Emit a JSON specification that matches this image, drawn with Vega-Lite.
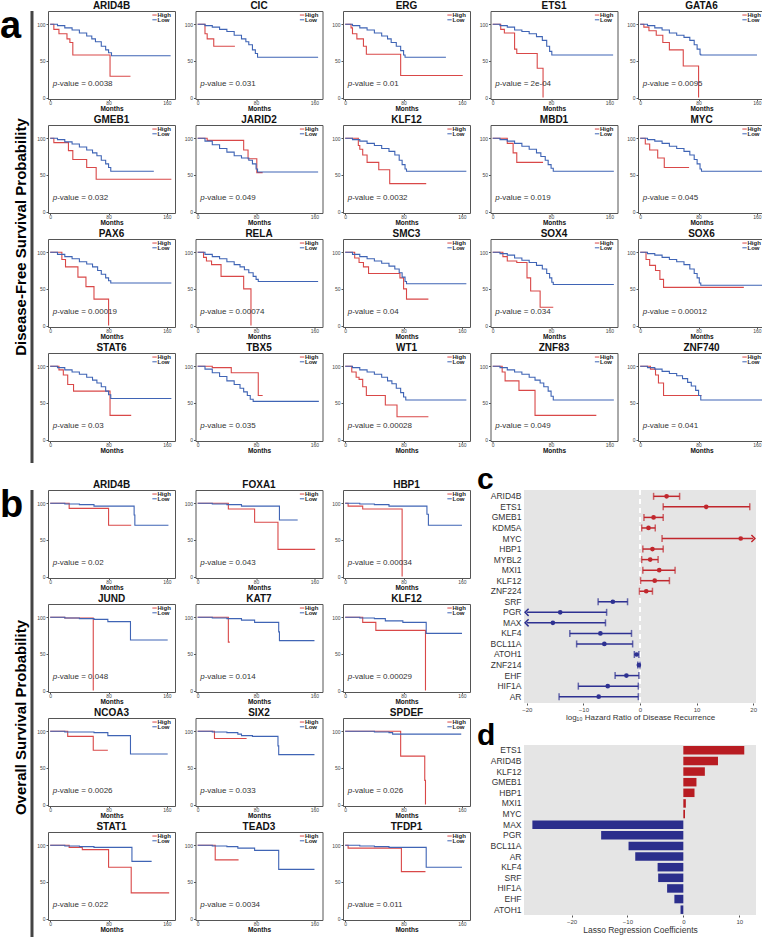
{
"$schema":"https://vega.github.io/schema/vega-lite/v6.json",
"padding":0,
"background":"white",
"config":{
 "font":"Liberation Sans",
 "view":{"stroke":"#555","strokeWidth":1},
 "axis":{"grid":false,"domain":false,"tickColor":"#555","labelColor":"#444","titleColor":"#111","labelOverlap":false},
 "header":{"labelFont":"Liberation Sans"},
 "title":{"font":"Liberation Sans"},
 "line":{"interpolate":"step-after","strokeWidth":1.1}
},
"datasets":{
"kmA":[
{"gene":"ARID4B","p":"0.0038"},
{"gene":"ARID4B","g":"High","t":0,"s":100},{"gene":"ARID4B","g":"High","t":5,"s":93},{"gene":"ARID4B","g":"High","t":12,"s":87},{"gene":"ARID4B","g":"High","t":23,"s":80},{"gene":"ARID4B","g":"High","t":27,"s":75},{"gene":"ARID4B","g":"High","t":31,"s":58},{"gene":"ARID4B","g":"High","t":82,"s":29},{"gene":"ARID4B","g":"High","t":110,"s":29},
{"gene":"ARID4B","g":"Low","t":0,"s":100},{"gene":"ARID4B","g":"Low","t":10,"s":98},{"gene":"ARID4B","g":"Low","t":20,"s":95},{"gene":"ARID4B","g":"Low","t":30,"s":92},{"gene":"ARID4B","g":"Low","t":40,"s":88},{"gene":"ARID4B","g":"Low","t":50,"s":84},{"gene":"ARID4B","g":"Low","t":57,"s":80},{"gene":"ARID4B","g":"Low","t":62,"s":76},{"gene":"ARID4B","g":"Low","t":70,"s":70},{"gene":"ARID4B","g":"Low","t":76,"s":65},{"gene":"ARID4B","g":"Low","t":80,"s":61},{"gene":"ARID4B","g":"Low","t":84,"s":57},{"gene":"ARID4B","g":"Low","t":165,"s":57},
{"gene":"CIC","p":"0.031"},
{"gene":"CIC","g":"High","t":0,"s":100},{"gene":"CIC","g":"High","t":10,"s":87},{"gene":"CIC","g":"High","t":13,"s":80},{"gene":"CIC","g":"High","t":22,"s":70},{"gene":"CIC","g":"High","t":51,"s":70},
{"gene":"CIC","g":"Low","t":0,"s":100},{"gene":"CIC","g":"Low","t":10,"s":98},{"gene":"CIC","g":"Low","t":20,"s":96},{"gene":"CIC","g":"Low","t":30,"s":93},{"gene":"CIC","g":"Low","t":40,"s":90},{"gene":"CIC","g":"Low","t":50,"s":85},{"gene":"CIC","g":"Low","t":60,"s":80},{"gene":"CIC","g":"Low","t":66,"s":76},{"gene":"CIC","g":"Low","t":70,"s":72},{"gene":"CIC","g":"Low","t":75,"s":65},{"gene":"CIC","g":"Low","t":79,"s":60},{"gene":"CIC","g":"Low","t":82,"s":55},{"gene":"CIC","g":"Low","t":165,"s":55},
{"gene":"ERG","p":"0.01"},
{"gene":"ERG","g":"High","t":0,"s":100},{"gene":"ERG","g":"High","t":8,"s":95},{"gene":"ERG","g":"High","t":10,"s":87},{"gene":"ERG","g":"High","t":16,"s":80},{"gene":"ERG","g":"High","t":25,"s":70},{"gene":"ERG","g":"High","t":29,"s":59},{"gene":"ERG","g":"High","t":76,"s":30},{"gene":"ERG","g":"High","t":161,"s":30},
{"gene":"ERG","g":"Low","t":0,"s":100},{"gene":"ERG","g":"Low","t":10,"s":98},{"gene":"ERG","g":"Low","t":20,"s":95},{"gene":"ERG","g":"Low","t":30,"s":92},{"gene":"ERG","g":"Low","t":40,"s":88},{"gene":"ERG","g":"Low","t":50,"s":84},{"gene":"ERG","g":"Low","t":58,"s":80},{"gene":"ERG","g":"Low","t":63,"s":75},{"gene":"ERG","g":"Low","t":70,"s":70},{"gene":"ERG","g":"Low","t":76,"s":64},{"gene":"ERG","g":"Low","t":80,"s":58},{"gene":"ERG","g":"Low","t":82,"s":55},{"gene":"ERG","g":"Low","t":138,"s":55},
{"gene":"ETS1","p":"2e-04"},
{"gene":"ETS1","g":"High","t":0,"s":100},{"gene":"ETS1","g":"High","t":11,"s":93},{"gene":"ETS1","g":"High","t":16,"s":88},{"gene":"ETS1","g":"High","t":30,"s":66},{"gene":"ETS1","g":"High","t":33,"s":60},{"gene":"ETS1","g":"High","t":61,"s":40},{"gene":"ETS1","g":"High","t":69,"s":0},
{"gene":"ETS1","g":"Low","t":0,"s":100},{"gene":"ETS1","g":"Low","t":10,"s":98},{"gene":"ETS1","g":"Low","t":20,"s":96},{"gene":"ETS1","g":"Low","t":30,"s":92},{"gene":"ETS1","g":"Low","t":40,"s":90},{"gene":"ETS1","g":"Low","t":50,"s":87},{"gene":"ETS1","g":"Low","t":60,"s":83},{"gene":"ETS1","g":"Low","t":68,"s":78},{"gene":"ETS1","g":"Low","t":74,"s":70},{"gene":"ETS1","g":"Low","t":78,"s":63},{"gene":"ETS1","g":"Low","t":81,"s":58},{"gene":"ETS1","g":"Low","t":165,"s":58},
{"gene":"GATA6","p":"0.0095"},
{"gene":"GATA6","g":"High","t":0,"s":100},{"gene":"GATA6","g":"High","t":5,"s":96},{"gene":"GATA6","g":"High","t":12,"s":91},{"gene":"GATA6","g":"High","t":22,"s":85},{"gene":"GATA6","g":"High","t":31,"s":75},{"gene":"GATA6","g":"High","t":40,"s":65},{"gene":"GATA6","g":"High","t":59,"s":43},{"gene":"GATA6","g":"High","t":80,"s":0},
{"gene":"GATA6","g":"Low","t":0,"s":100},{"gene":"GATA6","g":"Low","t":10,"s":98},{"gene":"GATA6","g":"Low","t":20,"s":95},{"gene":"GATA6","g":"Low","t":30,"s":92},{"gene":"GATA6","g":"Low","t":40,"s":88},{"gene":"GATA6","g":"Low","t":50,"s":85},{"gene":"GATA6","g":"Low","t":60,"s":82},{"gene":"GATA6","g":"Low","t":68,"s":78},{"gene":"GATA6","g":"Low","t":74,"s":72},{"gene":"GATA6","g":"Low","t":78,"s":66},{"gene":"GATA6","g":"Low","t":82,"s":59},{"gene":"GATA6","g":"Low","t":83,"s":58},{"gene":"GATA6","g":"Low","t":160,"s":58},
{"gene":"GMEB1","p":"0.032"},
{"gene":"GMEB1","g":"High","t":0,"s":100},{"gene":"GMEB1","g":"High","t":5,"s":94},{"gene":"GMEB1","g":"High","t":25,"s":83},{"gene":"GMEB1","g":"High","t":31,"s":71},{"gene":"GMEB1","g":"High","t":50,"s":60},{"gene":"GMEB1","g":"High","t":63,"s":44},{"gene":"GMEB1","g":"High","t":166,"s":44},
{"gene":"GMEB1","g":"Low","t":0,"s":100},{"gene":"GMEB1","g":"Low","t":10,"s":98},{"gene":"GMEB1","g":"Low","t":20,"s":95},{"gene":"GMEB1","g":"Low","t":30,"s":92},{"gene":"GMEB1","g":"Low","t":40,"s":88},{"gene":"GMEB1","g":"Low","t":50,"s":84},{"gene":"GMEB1","g":"Low","t":58,"s":80},{"gene":"GMEB1","g":"Low","t":64,"s":76},{"gene":"GMEB1","g":"Low","t":70,"s":70},{"gene":"GMEB1","g":"Low","t":76,"s":65},{"gene":"GMEB1","g":"Low","t":80,"s":60},{"gene":"GMEB1","g":"Low","t":83,"s":55},{"gene":"GMEB1","g":"Low","t":142,"s":55},
{"gene":"JARID2","p":"0.049"},
{"gene":"JARID2","g":"High","t":0,"s":100},{"gene":"JARID2","g":"High","t":13,"s":97},{"gene":"JARID2","g":"High","t":63,"s":84},{"gene":"JARID2","g":"High","t":69,"s":72},{"gene":"JARID2","g":"High","t":81,"s":53},{"gene":"JARID2","g":"High","t":89,"s":53},
{"gene":"JARID2","g":"Low","t":0,"s":100},{"gene":"JARID2","g":"Low","t":10,"s":96},{"gene":"JARID2","g":"Low","t":20,"s":91},{"gene":"JARID2","g":"Low","t":30,"s":86},{"gene":"JARID2","g":"Low","t":40,"s":81},{"gene":"JARID2","g":"Low","t":50,"s":76},{"gene":"JARID2","g":"Low","t":60,"s":73},{"gene":"JARID2","g":"Low","t":70,"s":70},{"gene":"JARID2","g":"Low","t":75,"s":65},{"gene":"JARID2","g":"Low","t":80,"s":58},{"gene":"JARID2","g":"Low","t":82,"s":54},{"gene":"JARID2","g":"Low","t":165,"s":54},
{"gene":"KLF12","p":"0.0032"},
{"gene":"KLF12","g":"High","t":0,"s":100},{"gene":"KLF12","g":"High","t":18,"s":90},{"gene":"KLF12","g":"High","t":20,"s":85},{"gene":"KLF12","g":"High","t":24,"s":77},{"gene":"KLF12","g":"High","t":30,"s":67},{"gene":"KLF12","g":"High","t":46,"s":57},{"gene":"KLF12","g":"High","t":61,"s":38},{"gene":"KLF12","g":"High","t":111,"s":38},
{"gene":"KLF12","g":"Low","t":0,"s":100},{"gene":"KLF12","g":"Low","t":10,"s":98},{"gene":"KLF12","g":"Low","t":20,"s":96},{"gene":"KLF12","g":"Low","t":30,"s":93},{"gene":"KLF12","g":"Low","t":40,"s":90},{"gene":"KLF12","g":"Low","t":50,"s":86},{"gene":"KLF12","g":"Low","t":60,"s":82},{"gene":"KLF12","g":"Low","t":68,"s":77},{"gene":"KLF12","g":"Low","t":74,"s":70},{"gene":"KLF12","g":"Low","t":78,"s":64},{"gene":"KLF12","g":"Low","t":82,"s":58},{"gene":"KLF12","g":"Low","t":84,"s":55},{"gene":"KLF12","g":"Low","t":166,"s":55},
{"gene":"MBD1","p":"0.019"},
{"gene":"MBD1","g":"High","t":0,"s":100},{"gene":"MBD1","g":"High","t":20,"s":93},{"gene":"MBD1","g":"High","t":28,"s":80},{"gene":"MBD1","g":"High","t":33,"s":67},{"gene":"MBD1","g":"High","t":69,"s":67},
{"gene":"MBD1","g":"Low","t":0,"s":100},{"gene":"MBD1","g":"Low","t":10,"s":98},{"gene":"MBD1","g":"Low","t":20,"s":96},{"gene":"MBD1","g":"Low","t":30,"s":93},{"gene":"MBD1","g":"Low","t":40,"s":89},{"gene":"MBD1","g":"Low","t":50,"s":85},{"gene":"MBD1","g":"Low","t":60,"s":80},{"gene":"MBD1","g":"Low","t":66,"s":75},{"gene":"MBD1","g":"Low","t":72,"s":70},{"gene":"MBD1","g":"Low","t":76,"s":64},{"gene":"MBD1","g":"Low","t":80,"s":59},{"gene":"MBD1","g":"Low","t":83,"s":55},{"gene":"MBD1","g":"Low","t":166,"s":55},
{"gene":"MYC","p":"0.045"},
{"gene":"MYC","g":"High","t":0,"s":100},{"gene":"MYC","g":"High","t":7,"s":92},{"gene":"MYC","g":"High","t":13,"s":84},{"gene":"MYC","g":"High","t":24,"s":73},{"gene":"MYC","g":"High","t":33,"s":60},{"gene":"MYC","g":"High","t":67,"s":60},
{"gene":"MYC","g":"Low","t":0,"s":100},{"gene":"MYC","g":"Low","t":10,"s":98},{"gene":"MYC","g":"Low","t":20,"s":96},{"gene":"MYC","g":"Low","t":30,"s":93},{"gene":"MYC","g":"Low","t":40,"s":89},{"gene":"MYC","g":"Low","t":50,"s":86},{"gene":"MYC","g":"Low","t":60,"s":82},{"gene":"MYC","g":"Low","t":68,"s":77},{"gene":"MYC","g":"Low","t":74,"s":71},{"gene":"MYC","g":"Low","t":78,"s":65},{"gene":"MYC","g":"Low","t":82,"s":58},{"gene":"MYC","g":"Low","t":84,"s":55},{"gene":"MYC","g":"Low","t":168,"s":55},
{"gene":"PAX6","p":"0.00019"},
{"gene":"PAX6","g":"High","t":0,"s":100},{"gene":"PAX6","g":"High","t":16,"s":90},{"gene":"PAX6","g":"High","t":21,"s":80},{"gene":"PAX6","g":"High","t":38,"s":66},{"gene":"PAX6","g":"High","t":49,"s":53},{"gene":"PAX6","g":"High","t":60,"s":36},{"gene":"PAX6","g":"High","t":80,"s":0},
{"gene":"PAX6","g":"Low","t":0,"s":100},{"gene":"PAX6","g":"Low","t":10,"s":97},{"gene":"PAX6","g":"Low","t":20,"s":94},{"gene":"PAX6","g":"Low","t":30,"s":91},{"gene":"PAX6","g":"Low","t":40,"s":87},{"gene":"PAX6","g":"Low","t":50,"s":84},{"gene":"PAX6","g":"Low","t":58,"s":80},{"gene":"PAX6","g":"Low","t":65,"s":75},{"gene":"PAX6","g":"Low","t":70,"s":70},{"gene":"PAX6","g":"Low","t":76,"s":65},{"gene":"PAX6","g":"Low","t":80,"s":61},{"gene":"PAX6","g":"Low","t":83,"s":58},{"gene":"PAX6","g":"Low","t":166,"s":58},
{"gene":"RELA","p":"0.00074"},
{"gene":"RELA","g":"High","t":0,"s":100},{"gene":"RELA","g":"High","t":8,"s":93},{"gene":"RELA","g":"High","t":12,"s":88},{"gene":"RELA","g":"High","t":19,"s":83},{"gene":"RELA","g":"High","t":32,"s":67},{"gene":"RELA","g":"High","t":63,"s":50},{"gene":"RELA","g":"High","t":73,"s":0},
{"gene":"RELA","g":"Low","t":0,"s":100},{"gene":"RELA","g":"Low","t":10,"s":97},{"gene":"RELA","g":"Low","t":20,"s":94},{"gene":"RELA","g":"Low","t":30,"s":91},{"gene":"RELA","g":"Low","t":40,"s":87},{"gene":"RELA","g":"Low","t":50,"s":83},{"gene":"RELA","g":"Low","t":58,"s":80},{"gene":"RELA","g":"Low","t":64,"s":76},{"gene":"RELA","g":"Low","t":70,"s":72},{"gene":"RELA","g":"Low","t":76,"s":67},{"gene":"RELA","g":"Low","t":80,"s":63},{"gene":"RELA","g":"Low","t":83,"s":60},{"gene":"RELA","g":"Low","t":165,"s":60},
{"gene":"SMC3","p":"0.04"},
{"gene":"SMC3","g":"High","t":0,"s":100},{"gene":"SMC3","g":"High","t":13,"s":92},{"gene":"SMC3","g":"High","t":19,"s":86},{"gene":"SMC3","g":"High","t":25,"s":80},{"gene":"SMC3","g":"High","t":32,"s":71},{"gene":"SMC3","g":"High","t":70,"s":71},{"gene":"SMC3","g":"High","t":75,"s":65},{"gene":"SMC3","g":"High","t":80,"s":50},{"gene":"SMC3","g":"High","t":84,"s":36},{"gene":"SMC3","g":"High","t":114,"s":36},
{"gene":"SMC3","g":"Low","t":0,"s":100},{"gene":"SMC3","g":"Low","t":10,"s":97},{"gene":"SMC3","g":"Low","t":20,"s":94},{"gene":"SMC3","g":"Low","t":30,"s":91},{"gene":"SMC3","g":"Low","t":40,"s":88},{"gene":"SMC3","g":"Low","t":50,"s":85},{"gene":"SMC3","g":"Low","t":60,"s":81},{"gene":"SMC3","g":"Low","t":68,"s":77},{"gene":"SMC3","g":"Low","t":74,"s":72},{"gene":"SMC3","g":"Low","t":78,"s":66},{"gene":"SMC3","g":"Low","t":82,"s":60},{"gene":"SMC3","g":"Low","t":84,"s":57},{"gene":"SMC3","g":"Low","t":166,"s":57},
{"gene":"SOX4","p":"0.034"},
{"gene":"SOX4","g":"High","t":0,"s":100},{"gene":"SOX4","g":"High","t":14,"s":94},{"gene":"SOX4","g":"High","t":20,"s":88},{"gene":"SOX4","g":"High","t":33,"s":86},{"gene":"SOX4","g":"High","t":47,"s":65},{"gene":"SOX4","g":"High","t":52,"s":47},{"gene":"SOX4","g":"High","t":65,"s":25},{"gene":"SOX4","g":"High","t":83,"s":25},
{"gene":"SOX4","g":"Low","t":0,"s":100},{"gene":"SOX4","g":"Low","t":10,"s":98},{"gene":"SOX4","g":"Low","t":20,"s":96},{"gene":"SOX4","g":"Low","t":30,"s":92},{"gene":"SOX4","g":"Low","t":40,"s":89},{"gene":"SOX4","g":"Low","t":50,"s":86},{"gene":"SOX4","g":"Low","t":60,"s":82},{"gene":"SOX4","g":"Low","t":68,"s":77},{"gene":"SOX4","g":"Low","t":74,"s":71},{"gene":"SOX4","g":"Low","t":78,"s":65},{"gene":"SOX4","g":"Low","t":81,"s":59},{"gene":"SOX4","g":"Low","t":83,"s":56},{"gene":"SOX4","g":"Low","t":166,"s":56},
{"gene":"SOX6","p":"0.00012"},
{"gene":"SOX6","g":"High","t":0,"s":100},{"gene":"SOX6","g":"High","t":8,"s":90},{"gene":"SOX6","g":"High","t":13,"s":82},{"gene":"SOX6","g":"High","t":21,"s":75},{"gene":"SOX6","g":"High","t":27,"s":63},{"gene":"SOX6","g":"High","t":32,"s":52},{"gene":"SOX6","g":"High","t":142,"s":52},
{"gene":"SOX6","g":"Low","t":0,"s":100},{"gene":"SOX6","g":"Low","t":10,"s":98},{"gene":"SOX6","g":"Low","t":20,"s":96},{"gene":"SOX6","g":"Low","t":30,"s":93},{"gene":"SOX6","g":"Low","t":40,"s":90},{"gene":"SOX6","g":"Low","t":50,"s":87},{"gene":"SOX6","g":"Low","t":60,"s":83},{"gene":"SOX6","g":"Low","t":68,"s":77},{"gene":"SOX6","g":"Low","t":74,"s":71},{"gene":"SOX6","g":"Low","t":78,"s":65},{"gene":"SOX6","g":"Low","t":81,"s":58},{"gene":"SOX6","g":"Low","t":83,"s":55},{"gene":"SOX6","g":"Low","t":168,"s":55},
{"gene":"STAT6","p":"0.03"},
{"gene":"STAT6","g":"High","t":0,"s":100},{"gene":"STAT6","g":"High","t":12,"s":95},{"gene":"STAT6","g":"High","t":18,"s":88},{"gene":"STAT6","g":"High","t":24,"s":75},{"gene":"STAT6","g":"High","t":32,"s":66},{"gene":"STAT6","g":"High","t":82,"s":33},{"gene":"STAT6","g":"High","t":111,"s":33},
{"gene":"STAT6","g":"Low","t":0,"s":100},{"gene":"STAT6","g":"Low","t":10,"s":98},{"gene":"STAT6","g":"Low","t":20,"s":95},{"gene":"STAT6","g":"Low","t":30,"s":92},{"gene":"STAT6","g":"Low","t":40,"s":89},{"gene":"STAT6","g":"Low","t":50,"s":85},{"gene":"STAT6","g":"Low","t":58,"s":81},{"gene":"STAT6","g":"Low","t":64,"s":77},{"gene":"STAT6","g":"Low","t":70,"s":72},{"gene":"STAT6","g":"Low","t":76,"s":66},{"gene":"STAT6","g":"Low","t":80,"s":61},{"gene":"STAT6","g":"Low","t":83,"s":56},{"gene":"STAT6","g":"Low","t":166,"s":56},
{"gene":"TBX5","p":"0.035"},
{"gene":"TBX5","g":"High","t":0,"s":100},{"gene":"TBX5","g":"High","t":20,"s":98},{"gene":"TBX5","g":"High","t":46,"s":91},{"gene":"TBX5","g":"High","t":83,"s":60},{"gene":"TBX5","g":"High","t":89,"s":60},
{"gene":"TBX5","g":"Low","t":0,"s":100},{"gene":"TBX5","g":"Low","t":10,"s":96},{"gene":"TBX5","g":"Low","t":20,"s":91},{"gene":"TBX5","g":"Low","t":30,"s":86},{"gene":"TBX5","g":"Low","t":40,"s":80},{"gene":"TBX5","g":"Low","t":50,"s":75},{"gene":"TBX5","g":"Low","t":58,"s":70},{"gene":"TBX5","g":"Low","t":63,"s":65},{"gene":"TBX5","g":"Low","t":68,"s":60},{"gene":"TBX5","g":"Low","t":72,"s":55},{"gene":"TBX5","g":"Low","t":76,"s":52},{"gene":"TBX5","g":"Low","t":166,"s":52},
{"gene":"WT1","p":"0.00028"},
{"gene":"WT1","g":"High","t":0,"s":100},{"gene":"WT1","g":"High","t":9,"s":92},{"gene":"WT1","g":"High","t":15,"s":85},{"gene":"WT1","g":"High","t":19,"s":82},{"gene":"WT1","g":"High","t":24,"s":72},{"gene":"WT1","g":"High","t":29,"s":60},{"gene":"WT1","g":"High","t":55,"s":47},{"gene":"WT1","g":"High","t":71,"s":31},{"gene":"WT1","g":"High","t":114,"s":31},
{"gene":"WT1","g":"Low","t":0,"s":100},{"gene":"WT1","g":"Low","t":10,"s":98},{"gene":"WT1","g":"Low","t":20,"s":95},{"gene":"WT1","g":"Low","t":30,"s":92},{"gene":"WT1","g":"Low","t":40,"s":89},{"gene":"WT1","g":"Low","t":50,"s":85},{"gene":"WT1","g":"Low","t":58,"s":80},{"gene":"WT1","g":"Low","t":64,"s":76},{"gene":"WT1","g":"Low","t":70,"s":70},{"gene":"WT1","g":"Low","t":76,"s":64},{"gene":"WT1","g":"Low","t":80,"s":58},{"gene":"WT1","g":"Low","t":83,"s":54},{"gene":"WT1","g":"Low","t":166,"s":54},
{"gene":"ZNF83","p":"0.049"},
{"gene":"ZNF83","g":"High","t":0,"s":100},{"gene":"ZNF83","g":"High","t":13,"s":92},{"gene":"ZNF83","g":"High","t":17,"s":80},{"gene":"ZNF83","g":"High","t":36,"s":67},{"gene":"ZNF83","g":"High","t":58,"s":33},{"gene":"ZNF83","g":"High","t":142,"s":33},
{"gene":"ZNF83","g":"Low","t":0,"s":100},{"gene":"ZNF83","g":"Low","t":10,"s":98},{"gene":"ZNF83","g":"Low","t":20,"s":95},{"gene":"ZNF83","g":"Low","t":30,"s":92},{"gene":"ZNF83","g":"Low","t":40,"s":89},{"gene":"ZNF83","g":"Low","t":50,"s":85},{"gene":"ZNF83","g":"Low","t":58,"s":81},{"gene":"ZNF83","g":"Low","t":65,"s":77},{"gene":"ZNF83","g":"Low","t":70,"s":72},{"gene":"ZNF83","g":"Low","t":76,"s":66},{"gene":"ZNF83","g":"Low","t":80,"s":59},{"gene":"ZNF83","g":"Low","t":83,"s":54},{"gene":"ZNF83","g":"Low","t":166,"s":54},
{"gene":"ZNF740","p":"0.041"},
{"gene":"ZNF740","g":"High","t":0,"s":100},{"gene":"ZNF740","g":"High","t":14,"s":96},{"gene":"ZNF740","g":"High","t":21,"s":88},{"gene":"ZNF740","g":"High","t":25,"s":77},{"gene":"ZNF740","g":"High","t":32,"s":60},{"gene":"ZNF740","g":"High","t":84,"s":60},
{"gene":"ZNF740","g":"Low","t":0,"s":100},{"gene":"ZNF740","g":"Low","t":10,"s":98},{"gene":"ZNF740","g":"Low","t":20,"s":96},{"gene":"ZNF740","g":"Low","t":30,"s":93},{"gene":"ZNF740","g":"Low","t":40,"s":90},{"gene":"ZNF740","g":"Low","t":50,"s":87},{"gene":"ZNF740","g":"Low","t":58,"s":83},{"gene":"ZNF740","g":"Low","t":65,"s":78},{"gene":"ZNF740","g":"Low","t":70,"s":73},{"gene":"ZNF740","g":"Low","t":76,"s":67},{"gene":"ZNF740","g":"Low","t":80,"s":60},{"gene":"ZNF740","g":"Low","t":83,"s":54},{"gene":"ZNF740","g":"Low","t":168,"s":54}
],
"kmB":[
{"gene":"ARID4B","p":"0.02"},
{"gene":"ARID4B","g":"High","t":0,"s":100},{"gene":"ARID4B","g":"High","t":26,"s":93},{"gene":"ARID4B","g":"High","t":80,"s":70},{"gene":"ARID4B","g":"High","t":111,"s":70},
{"gene":"ARID4B","g":"Low","t":0,"s":100},{"gene":"ARID4B","g":"Low","t":20,"s":99},{"gene":"ARID4B","g":"Low","t":40,"s":98},{"gene":"ARID4B","g":"Low","t":60,"s":96},{"gene":"ARID4B","g":"Low","t":113,"s":96},{"gene":"ARID4B","g":"Low","t":115,"s":84},{"gene":"ARID4B","g":"Low","t":116,"s":70},{"gene":"ARID4B","g":"Low","t":162,"s":70},
{"gene":"FOXA1","p":"0.043"},
{"gene":"FOXA1","g":"High","t":0,"s":100},{"gene":"FOXA1","g":"High","t":42,"s":92},{"gene":"FOXA1","g":"High","t":78,"s":74},{"gene":"FOXA1","g":"High","t":110,"s":37},{"gene":"FOXA1","g":"High","t":161,"s":37},
{"gene":"FOXA1","g":"Low","t":0,"s":100},{"gene":"FOXA1","g":"Low","t":20,"s":99},{"gene":"FOXA1","g":"Low","t":40,"s":98},{"gene":"FOXA1","g":"Low","t":60,"s":96},{"gene":"FOXA1","g":"Low","t":110,"s":96},{"gene":"FOXA1","g":"Low","t":112,"s":77},{"gene":"FOXA1","g":"Low","t":137,"s":77},
{"gene":"HBP1","p":"0.00034"},
{"gene":"HBP1","g":"High","t":0,"s":100},{"gene":"HBP1","g":"High","t":4,"s":96},{"gene":"HBP1","g":"High","t":24,"s":92},{"gene":"HBP1","g":"High","t":78,"s":0},
{"gene":"HBP1","g":"Low","t":0,"s":100},{"gene":"HBP1","g":"Low","t":20,"s":99},{"gene":"HBP1","g":"Low","t":40,"s":98},{"gene":"HBP1","g":"Low","t":60,"s":96},{"gene":"HBP1","g":"Low","t":110,"s":96},{"gene":"HBP1","g":"Low","t":112,"s":85},{"gene":"HBP1","g":"Low","t":114,"s":70},{"gene":"HBP1","g":"Low","t":160,"s":70},
{"gene":"JUND","p":"0.048"},
{"gene":"JUND","g":"High","t":0,"s":100},{"gene":"JUND","g":"High","t":20,"s":99},{"gene":"JUND","g":"High","t":59,"s":0},
{"gene":"JUND","g":"Low","t":0,"s":100},{"gene":"JUND","g":"Low","t":20,"s":99},{"gene":"JUND","g":"Low","t":40,"s":98},{"gene":"JUND","g":"Low","t":60,"s":97},{"gene":"JUND","g":"Low","t":79,"s":94},{"gene":"JUND","g":"Low","t":110,"s":69},{"gene":"JUND","g":"Low","t":161,"s":69},
{"gene":"KAT7","p":"0.014"},
{"gene":"KAT7","g":"High","t":0,"s":100},{"gene":"KAT7","g":"High","t":42,"s":66},{"gene":"KAT7","g":"High","t":44,"s":66},
{"gene":"KAT7","g":"Low","t":0,"s":100},{"gene":"KAT7","g":"Low","t":20,"s":99},{"gene":"KAT7","g":"Low","t":40,"s":98},{"gene":"KAT7","g":"Low","t":60,"s":96},{"gene":"KAT7","g":"Low","t":78,"s":93},{"gene":"KAT7","g":"Low","t":109,"s":93},{"gene":"KAT7","g":"Low","t":111,"s":80},{"gene":"KAT7","g":"Low","t":112,"s":68},{"gene":"KAT7","g":"Low","t":160,"s":68},
{"gene":"KLF12","p":"0.00029"},
{"gene":"KLF12","g":"High","t":0,"s":100},{"gene":"KLF12","g":"High","t":24,"s":93},{"gene":"KLF12","g":"High","t":42,"s":82},{"gene":"KLF12","g":"High","t":110,"s":0},
{"gene":"KLF12","g":"Low","t":0,"s":100},{"gene":"KLF12","g":"Low","t":20,"s":99},{"gene":"KLF12","g":"Low","t":40,"s":98},{"gene":"KLF12","g":"Low","t":55,"s":95},{"gene":"KLF12","g":"Low","t":79,"s":93},{"gene":"KLF12","g":"Low","t":110,"s":93},{"gene":"KLF12","g":"Low","t":111,"s":78},{"gene":"KLF12","g":"Low","t":160,"s":78},
{"gene":"NCOA3","p":"0.0026"},
{"gene":"NCOA3","g":"High","t":0,"s":100},{"gene":"NCOA3","g":"High","t":24,"s":93},{"gene":"NCOA3","g":"High","t":59,"s":74},{"gene":"NCOA3","g":"High","t":79,"s":74},
{"gene":"NCOA3","g":"Low","t":0,"s":100},{"gene":"NCOA3","g":"Low","t":20,"s":99},{"gene":"NCOA3","g":"Low","t":40,"s":99},{"gene":"NCOA3","g":"Low","t":60,"s":98},{"gene":"NCOA3","g":"Low","t":79,"s":94},{"gene":"NCOA3","g":"Low","t":110,"s":69},{"gene":"NCOA3","g":"Low","t":161,"s":69},
{"gene":"SIX2","p":"0.033"},
{"gene":"SIX2","g":"High","t":0,"s":100},{"gene":"SIX2","g":"High","t":23,"s":90},{"gene":"SIX2","g":"High","t":67,"s":90},
{"gene":"SIX2","g":"Low","t":0,"s":100},{"gene":"SIX2","g":"Low","t":20,"s":99},{"gene":"SIX2","g":"Low","t":40,"s":98},{"gene":"SIX2","g":"Low","t":55,"s":96},{"gene":"SIX2","g":"Low","t":60,"s":94},{"gene":"SIX2","g":"Low","t":75,"s":93},{"gene":"SIX2","g":"Low","t":108,"s":93},{"gene":"SIX2","g":"Low","t":110,"s":80},{"gene":"SIX2","g":"Low","t":111,"s":68},{"gene":"SIX2","g":"Low","t":160,"s":68},
{"gene":"SPDEF","p":"0.026"},
{"gene":"SPDEF","g":"High","t":0,"s":100},{"gene":"SPDEF","g":"High","t":76,"s":66},{"gene":"SPDEF","g":"High","t":109,"s":33},{"gene":"SPDEF","g":"High","t":110,"s":0},
{"gene":"SPDEF","g":"Low","t":0,"s":100},{"gene":"SPDEF","g":"Low","t":40,"s":99},{"gene":"SPDEF","g":"Low","t":60,"s":98},{"gene":"SPDEF","g":"Low","t":65,"s":96},{"gene":"SPDEF","g":"Low","t":159,"s":96},
{"gene":"STAT1","p":"0.022"},
{"gene":"STAT1","g":"High","t":0,"s":100},{"gene":"STAT1","g":"High","t":26,"s":97},{"gene":"STAT1","g":"High","t":44,"s":94},{"gene":"STAT1","g":"High","t":80,"s":70},{"gene":"STAT1","g":"High","t":111,"s":35},{"gene":"STAT1","g":"High","t":163,"s":35},
{"gene":"STAT1","g":"Low","t":0,"s":100},{"gene":"STAT1","g":"Low","t":20,"s":99},{"gene":"STAT1","g":"Low","t":40,"s":98},{"gene":"STAT1","g":"Low","t":60,"s":97},{"gene":"STAT1","g":"Low","t":112,"s":78},{"gene":"STAT1","g":"Low","t":139,"s":78},
{"gene":"TEAD3","p":"0.0034"},
{"gene":"TEAD3","g":"High","t":0,"s":100},{"gene":"TEAD3","g":"High","t":24,"s":80},{"gene":"TEAD3","g":"High","t":56,"s":80},
{"gene":"TEAD3","g":"Low","t":0,"s":100},{"gene":"TEAD3","g":"Low","t":20,"s":99},{"gene":"TEAD3","g":"Low","t":40,"s":98},{"gene":"TEAD3","g":"Low","t":55,"s":96},{"gene":"TEAD3","g":"Low","t":78,"s":93},{"gene":"TEAD3","g":"Low","t":110,"s":93},{"gene":"TEAD3","g":"Low","t":111,"s":67},{"gene":"TEAD3","g":"Low","t":160,"s":67},
{"gene":"TFDP1","p":"0.011"},
{"gene":"TFDP1","g":"High","t":0,"s":100},{"gene":"TFDP1","g":"High","t":4,"s":96},{"gene":"TFDP1","g":"High","t":77,"s":64},{"gene":"TFDP1","g":"High","t":110,"s":64},
{"gene":"TFDP1","g":"Low","t":0,"s":100},{"gene":"TFDP1","g":"Low","t":20,"s":99},{"gene":"TFDP1","g":"Low","t":40,"s":98},{"gene":"TFDP1","g":"Low","t":60,"s":97},{"gene":"TFDP1","g":"Low","t":110,"s":97},{"gene":"TFDP1","g":"Low","t":111,"s":70},{"gene":"TFDP1","g":"Low","t":160,"s":70}
],
"forest":[
{"gene":"ARID4B","est":4.7,"lo":2.4,"hi":7.0},
{"gene":"ETS1","est":11.7,"lo":4.1,"hi":19.4},
{"gene":"GMEB1","est":2.4,"lo":0.7,"hi":4.1},
{"gene":"KDM5A","est":1.5,"lo":0.3,"hi":2.7},
{"gene":"MYC","est":17.8,"lo":3.9,"hi":20},
{"gene":"HBP1","est":2.2,"lo":0.5,"hi":4.1},
{"gene":"MYBL2","est":1.8,"lo":0.3,"hi":3.2},
{"gene":"MXI1","est":3.4,"lo":0.5,"hi":6.2},
{"gene":"KLF12","est":2.6,"lo":0.1,"hi":5.2},
{"gene":"ZNF224","est":1.1,"lo":-0.1,"hi":2.2},
{"gene":"SRF","est":-4.8,"lo":-7.4,"hi":-2.2},
{"gene":"PGR","est":-14.1,"lo":-20,"hi":-5.9},
{"gene":"MAX","est":-15.4,"lo":-20,"hi":-6.1},
{"gene":"KLF4","est":-7.0,"lo":-12.4,"hi":-1.5},
{"gene":"BCL11A","est":-6.3,"lo":-11.2,"hi":-1.3},
{"gene":"ATOH1","est":-0.6,"lo":-1.0,"hi":-0.2},
{"gene":"ZNF214","est":-0.2,"lo":-0.4,"hi":0.0},
{"gene":"EHF","est":-2.4,"lo":-4.4,"hi":-0.2},
{"gene":"HIF1A","est":-5.7,"lo":-10.9,"hi":-0.3},
{"gene":"AR","est":-7.3,"lo":-14.3,"hi":-0.3}
],
"lasso":[
{"gene":"ETS1","coef":10.9},{"gene":"ARID4B","coef":6.2},{"gene":"KLF12","coef":3.85},{"gene":"GMEB1","coef":2.35},{"gene":"HBP1","coef":2.0},{"gene":"MXI1","coef":0.45},{"gene":"MYC","coef":0.3},{"gene":"MAX","coef":-27},{"gene":"PGR","coef":-14.7},{"gene":"BCL11A","coef":-9.8},{"gene":"AR","coef":-8.6},{"gene":"KLF4","coef":-4.6},{"gene":"SRF","coef":-4.5},{"gene":"HIF1A","coef":-2.9},{"gene":"EHF","coef":-1.6},{"gene":"ATOH1","coef":-0.5}
]
},
"vconcat":[
{"hconcat":[
 {"width":35,"height":452,"view":{"stroke":null},
  "data":{"values":[{"letter":"a","label":"Disease-Free Survival Probability"}]},
  "layer":[
   {"mark":{"type":"text","fontSize":38,"fontWeight":"bold","align":"left","baseline":"alphabetic","color":"#000"},
    "encoding":{"x":{"datum":0,"scale":{"domain":[0,1],"nice":false},"axis":null},"y":{"datum":0.94,"scale":{"domain":[0,1],"nice":false},"axis":null},"text":{"field":"letter"}}},
   {"mark":{"type":"rule","strokeWidth":3,"color":"#444"},"encoding":{"x":{"datum":0.914},"y":{"datum":0},"y2":{"datum":1}}},
   {"mark":{"type":"text","angle":270,"fontSize":15,"fontWeight":"bold","align":"center","baseline":"middle","color":"#000"},"encoding":{"x":{"datum":0.6},"y":{"datum":0.5},"text":{"field":"label"}}}
  ]},
 {"data":{"name":"kmA"},
  "facet":{"field":"gene","type":"nominal","sort":["ARID4B","CIC","ERG","ETS1","GATA6","GMEB1","JARID2","KLF12","MBD1","MYC","PAX6","RELA","SMC3","SOX4","SOX6","STAT6","TBX5","WT1","ZNF83","ZNF740"],"header":{"title":null,"labelFontSize":10,"labelFontWeight":"bold","labelPadding":0,"labelColor":"#111"}},
  "columns":5,
  "spacing":{"row":1,"column":6.5},
  "resolve":{"axis":{"x":"independent","y":"independent"}},
  "spec":{"width":127,"height":88,
   "layer":[
    {"transform":[{"filter":"isValid(datum.t)"}],"mark":"line",
     "encoding":{
      "x":{"field":"t","type":"quantitative","scale":{"domain":[-3,171],"nice":false,"zero":false},"axis":{"values":[0,40,80,120,160],"title":"Months","labelFontSize":5,"labelOverlap":false,"tickSize":1.5,"labelPadding":0,"titleFontSize":6.5,"titleFontWeight":"bold","titlePadding":0}},
      "y":{"field":"s","type":"quantitative","scale":{"domain":[-2,118],"nice":false,"zero":false},"axis":{"values":[0,25,50,75,100],"title":null,"labelFontSize":5,"labelOverlap":false,"tickSize":2,"labelPadding":1,"minExtent":12,"maxExtent":12}},
      "color":{"field":"g","type":"nominal","scale":{"domain":["High","Low"],"range":["#d94848","#3f64b5"]},"legend":null}}},
    {"transform":[{"filter":"isValid(datum.p)"}],"mark":{"type":"text","fontSize":8,"fontStyle":"italic","align":"left","baseline":"middle","color":"#333"},
     "encoding":{"x":{"datum":3.4},"y":{"datum":18.4},"text":{"value":"p"}}},
    {"transform":[{"filter":"isValid(datum.p)"},{"calculate":"'-value = ' + datum.p","as":"lbl"}],"mark":{"type":"text","fontSize":8,"align":"left","baseline":"middle","color":"#333","dx":4.5},
     "encoding":{"x":{"datum":3.4},"y":{"datum":18.4},"text":{"field":"lbl"}}},
    {"transform":[{"filter":"isValid(datum.p)"}],"mark":{"type":"rule","color":"#d94848","strokeWidth":1},"encoding":{"x":{"datum":140},"x2":{"datum":146},"y":{"datum":112.5}}},
    {"transform":[{"filter":"isValid(datum.p)"}],"mark":{"type":"rule","color":"#3f64b5","strokeWidth":1},"encoding":{"x":{"datum":140},"x2":{"datum":146},"y":{"datum":106}}},
    {"transform":[{"filter":"isValid(datum.p)"}],"mark":{"type":"text","fontSize":6,"fontWeight":"bold","align":"left","baseline":"middle","color":"#222"},"encoding":{"x":{"datum":147},"y":{"datum":112.5},"text":{"value":"High"}}},
    {"transform":[{"filter":"isValid(datum.p)"}],"mark":{"type":"text","fontSize":6,"fontWeight":"bold","align":"left","baseline":"middle","color":"#222"},"encoding":{"x":{"datum":147},"y":{"datum":106},"text":{"value":"Low"}}}
   ]}}
],"spacing":0},
{"hconcat":[
 {"hconcat":[
  {"width":35,"height":455,"view":{"stroke":null},
   "data":{"values":[{"letter":"b","label":"Overall Survival Probability"}]},
   "layer":[
    {"mark":{"type":"text","fontSize":38,"fontWeight":"bold","align":"left","baseline":"alphabetic","color":"#000"},
     "encoding":{"x":{"datum":0,"scale":{"domain":[0,1],"nice":false},"axis":null},"y":{"datum":0.94,"scale":{"domain":[0,1],"nice":false},"axis":null},"text":{"field":"letter"}}},
    {"mark":{"type":"rule","strokeWidth":3,"color":"#444"},"encoding":{"x":{"datum":0.914},"y":{"datum":0},"y2":{"datum":1}}},
    {"mark":{"type":"text","angle":270,"fontSize":15,"fontWeight":"bold","align":"center","baseline":"middle","color":"#000"},"encoding":{"x":{"datum":0.6},"y":{"datum":0.5},"text":{"field":"label"}}}
   ]},
  {"data":{"name":"kmB"},
   "facet":{"field":"gene","type":"nominal","sort":["ARID4B","FOXA1","HBP1","JUND","KAT7","KLF12","NCOA3","SIX2","SPDEF","STAT1","TEAD3","TFDP1"],"header":{"title":null,"labelFontSize":10,"labelFontWeight":"bold","labelPadding":0,"labelColor":"#111"}},
   "columns":3,
   "spacing":{"row":1,"column":6.5},
   "resolve":{"axis":{"x":"independent","y":"independent"}},
   "spec":{"width":127,"height":88,
    "layer":[
     {"transform":[{"filter":"isValid(datum.t)"}],"mark":"line",
      "encoding":{
       "x":{"field":"t","type":"quantitative","scale":{"domain":[-3,171],"nice":false,"zero":false},"axis":{"values":[0,40,80,120,160],"title":"Months","labelFontSize":5,"labelOverlap":false,"tickSize":1.5,"labelPadding":0,"titleFontSize":6.5,"titleFontWeight":"bold","titlePadding":0}},
       "y":{"field":"s","type":"quantitative","scale":{"domain":[-2,118],"nice":false,"zero":false},"axis":{"values":[0,25,50,75,100],"title":null,"labelFontSize":5,"labelOverlap":false,"tickSize":2,"labelPadding":1,"minExtent":12,"maxExtent":12}},
       "color":{"field":"g","type":"nominal","scale":{"domain":["High","Low"],"range":["#d94848","#3f64b5"]},"legend":null}}},
     {"transform":[{"filter":"isValid(datum.p)"}],"mark":{"type":"text","fontSize":8,"fontStyle":"italic","align":"left","baseline":"middle","color":"#333"},
      "encoding":{"x":{"datum":3.4},"y":{"datum":18.4},"text":{"value":"p"}}},
     {"transform":[{"filter":"isValid(datum.p)"},{"calculate":"'-value = ' + datum.p","as":"lbl"}],"mark":{"type":"text","fontSize":8,"align":"left","baseline":"middle","color":"#333","dx":4.5},
      "encoding":{"x":{"datum":3.4},"y":{"datum":18.4},"text":{"field":"lbl"}}},
     {"transform":[{"filter":"isValid(datum.p)"}],"mark":{"type":"rule","color":"#d94848","strokeWidth":1},"encoding":{"x":{"datum":140},"x2":{"datum":146},"y":{"datum":112.5}}},
     {"transform":[{"filter":"isValid(datum.p)"}],"mark":{"type":"rule","color":"#3f64b5","strokeWidth":1},"encoding":{"x":{"datum":140},"x2":{"datum":146},"y":{"datum":106}}},
     {"transform":[{"filter":"isValid(datum.p)"}],"mark":{"type":"text","fontSize":6,"fontWeight":"bold","align":"left","baseline":"middle","color":"#222"},"encoding":{"x":{"datum":147},"y":{"datum":112.5},"text":{"value":"High"}}},
     {"transform":[{"filter":"isValid(datum.p)"}],"mark":{"type":"text","fontSize":6,"fontWeight":"bold","align":"left","baseline":"middle","color":"#222"},"encoding":{"x":{"datum":147},"y":{"datum":106},"text":{"value":"Low"}}}
    ]}}
 ],"spacing":0},
 {"vconcat":[
  {"width":232,"height":213,"data":{"name":"forest"},
   "view":{"fill":"#e5e5e5","stroke":null},
   "title":{"text":"c","anchor":"start","frame":"bounds","fontSize":30,"fontWeight":"bold","color":"#000","offset":-6,"dx":-12},
   "layer":[
    {"mark":{"type":"rule","color":"white","strokeDash":[5,4],"strokeWidth":1.5},"encoding":{"x":{"datum":0}}},
    {"mark":{"type":"rule","strokeWidth":1.5},
     "encoding":{
      "y":{"field":"gene","type":"nominal","sort":null,"scale":{"paddingInner":0,"paddingOuter":0.1},"axis":{"title":null,"labelFontSize":8.5,"ticks":false,"labelPadding":3,"labelColor":"#333","minExtent":35,"maxExtent":35}},
      "x":{"field":"lo","type":"quantitative","scale":{"domain":[-20.5,20.5],"nice":false,"zero":false},"axis":{"values":[-20,-15,-10,-5,0,5,10,15,20],"title":"log₁₀ Hazard Ratio of Disease Recurrence","titleFontSize":8,"titleFontWeight":"normal","titleColor":"#333","labelFontSize":6,"tickSize":2,"labelPadding":1,"titlePadding":1}},
      "x2":{"field":"hi"},
      "color":{"condition":{"test":"datum.est > 0","value":"#c1272d"},"value":"#2e3192"}}},
    {"transform":[{"filter":"datum.lo > -20"}],"mark":{"type":"tick","orient":"vertical","size":7,"thickness":1.5},
     "encoding":{"y":{"field":"gene","type":"nominal","sort":null},"x":{"field":"lo","type":"quantitative"},"color":{"condition":{"test":"datum.est > 0","value":"#c1272d"},"value":"#2e3192"}}},
    {"transform":[{"filter":"datum.hi < 20"}],"mark":{"type":"tick","orient":"vertical","size":7,"thickness":1.5},
     "encoding":{"y":{"field":"gene","type":"nominal","sort":null},"x":{"field":"hi","type":"quantitative"},"color":{"condition":{"test":"datum.est > 0","value":"#c1272d"},"value":"#2e3192"}}},
    {"mark":{"type":"point","filled":true,"size":22,"opacity":1},
     "encoding":{"y":{"field":"gene","type":"nominal","sort":null},"x":{"field":"est","type":"quantitative"},"color":{"condition":{"test":"datum.est > 0","value":"#c1272d"},"value":"#2e3192"}}},
    {"transform":[{"filter":"datum.lo <= -20"}],"mark":{"type":"point","shape":"M0.5,-1L-0.5,0L0.5,1","filled":false,"size":50,"strokeWidth":1.5,"opacity":1},
     "encoding":{"y":{"field":"gene","type":"nominal","sort":null},"x":{"field":"lo","type":"quantitative"},"color":{"condition":{"test":"datum.est > 0","value":"#c1272d"},"value":"#2e3192"}}},
    {"transform":[{"filter":"datum.hi >= 20"}],"mark":{"type":"point","shape":"M-0.5,-1L0.5,0L-0.5,1","filled":false,"size":50,"strokeWidth":1.5,"opacity":1},
     "encoding":{"y":{"field":"gene","type":"nominal","sort":null},"x":{"field":"hi","type":"quantitative"},"color":{"condition":{"test":"datum.est > 0","value":"#c1272d"},"value":"#2e3192"}}}
   ]},
  {"width":232,"height":170,"data":{"name":"lasso"},
   "view":{"fill":"#e5e5e5","stroke":null},
   "title":{"text":"d","anchor":"start","frame":"bounds","fontSize":30,"fontWeight":"bold","color":"#000","offset":-6,"dx":-12},
   "mark":{"type":"bar"},
   "encoding":{
    "y":{"field":"gene","type":"nominal","sort":null,"scale":{"paddingInner":0.2,"paddingOuter":0.1},"axis":{"title":null,"labelFontSize":8.5,"ticks":false,"labelPadding":3,"labelColor":"#333","minExtent":35,"maxExtent":35}},
    "x":{"field":"coef","type":"quantitative","scale":{"domain":[-28.5,13],"nice":false},"axis":{"values":[-20,-10,0,10],"title":"Lasso Regression Coefficients","titleFontSize":8.5,"titleFontWeight":"normal","titleColor":"#333","labelFontSize":6,"tickSize":2,"labelPadding":1,"titlePadding":1}},
    "color":{"condition":{"test":"datum.coef > 0","value":"#b81c22"},"value":"#2b2e8c"}}}
 ],"spacing":0}
],"spacing":6}
],
"spacing":0
}
